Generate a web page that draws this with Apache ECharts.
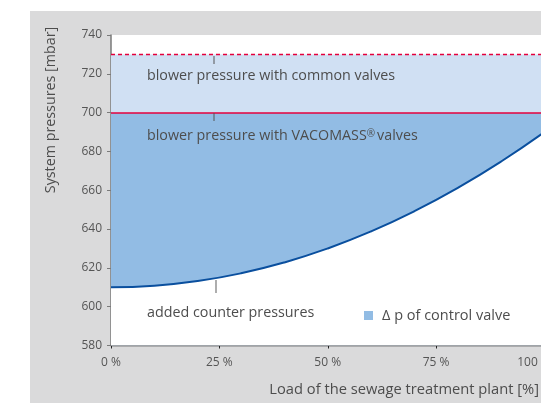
<!DOCTYPE html>
<html><head><meta charset="utf-8">
<script src="https://cdn.jsdelivr.net/npm/echarts@6/dist/echarts.min.js"></script>
<style>html,body{margin:0;padding:0;background:#fff}#c{width:541px;height:403px}</style>
</head><body><div id="c"></div>
<script>
const loadPct = [0, 10, 20, 30, 40, 50, 60, 70, 80, 90, 100];
const counterPressure = [610, 610.8, 613.2, 617.2, 622.8, 630, 638.8, 649.2, 661.2, 674.8, 690];
const vacomassPressure = 700;
const commonPressure = 730;
const xTicks = [0, 25, 50, 75, 100];
const yMin = 580, yMax = 740, yStep = 20;

const FONT = 'Open Sans';
const TXT = '#4d4d4d';
const F = '14.3px "Open Sans"';
const curve = loadPct.map((x, i) => [x, counterPressure[i]]);
const flat = loadPct.map(x => [x, vacomassPressure]);

const chart = echarts.init(document.getElementById('c'));
chart.setOption({
  animation: false,
  textStyle: { fontFamily: FONT },
  graphic: [
    { type: 'rect', z: -10, silent: true, shape: { x: 30, y: 11, width: 511, height: 392 }, style: { fill: '#dadadb' } },
    { type: 'text', z: 100, x: 147, y: 76, style: { text: 'blower pressure with common valves', fill: TXT, font: F, verticalAlign: 'middle' } },
    { type: 'text', z: 100, x: 147, y: 136, style: {
        text: 'blower pressure with VACOMASS{r|\u00AE}valves', fill: TXT, font: F, verticalAlign: 'middle',
        rich: { r: { fontSize: 10, fontFamily: FONT, fill: TXT, verticalAlign: 'top', padding: [0, 2, 0, 0] } } } },
    { type: 'text', z: 100, x: 147, y: 313, style: { text: 'added counter pressures', fill: TXT, font: F, verticalAlign: 'middle' } },
    { type: 'text', z: 100, x: 51, y: 110, rotation: Math.PI / 2, style: { text: 'System pressures [mbar]', fill: TXT, font: F, align: 'center', verticalAlign: 'middle' } },
    { type: 'text', z: 100, x: 539, y: 390, style: { text: 'Load of the sewage treatment plant [%]', fill: TXT, font: '14.7px "Open Sans"', align: 'right', verticalAlign: 'middle' } },
    { type: 'line', z: 100, shape: { x1: 214, y1: 56, x2: 214, y2: 64 }, style: { stroke: '#555', lineWidth: 1 } },
    { type: 'line', z: 100, shape: { x1: 214, y1: 113, x2: 214, y2: 121 }, style: { stroke: '#555', lineWidth: 1 } },
    { type: 'line', z: 100, shape: { x1: 216, y1: 280, x2: 216, y2: 293 }, style: { stroke: '#777', lineWidth: 1.2 } }
  ],
  legend: {
    left: 359, top: 303,
    itemWidth: 9, itemHeight: 9, itemGap: 10,
    icon: 'rect',
    data: [{ name: '\u0394 p of control valve' }],
    textStyle: { color: TXT, fontSize: 14.5, fontFamily: FONT, padding: [0, 0, 0, 4] }
  },
  grid: { left: 111, top: 35, right: -3.5, bottom: 57.5, show: true, backgroundColor: '#fff', borderWidth: 0, outerBoundsMode: 'none', containLabel: false },
  xAxis: {
    type: 'value', min: 0, max: 100, interval: 25,
    axisLine: { show: true, lineStyle: { color: '#222', width: 1.3 } },
    axisTick: { show: true, length: 3, lineStyle: { color: '#222' } },
    splitLine: { show: false },
    axisLabel: {
      formatter: v => v === 100 ? '{m|' + v + ' %}' : v + ' %',
      color: '#555', fontSize: 12, margin: 11, fontFamily: FONT,
      rich: { m: { color: '#555', fontSize: 12, fontFamily: FONT, padding: [0, 21, 0, 0] } }
    }
  },
  yAxis: {
    type: 'value', min: yMin, max: yMax, interval: yStep,
    axisLine: { show: true, lineStyle: { color: '#7a7a7a', width: 1.5 } },
    axisTick: { show: true, length: 4, lineStyle: { color: '#7a7a7a' } },
    splitLine: { show: false },
    axisLabel: { color: '#555', fontSize: 12, margin: 9, fontFamily: FONT }
  },
  series: [
    {
      name: '\u0394 p of control valve', type: 'line', data: flat, symbol: 'none',
      itemStyle: { color: '#92bce4' },
      lineStyle: { width: 0 },
      areaStyle: { color: '#92bce4', opacity: 1, origin: 'start' },
      markArea: {
        silent: true,
        itemStyle: { color: '#d0e0f3' },
        data: [[{ yAxis: vacomassPressure }, { yAxis: commonPressure }]]
      },
      z: 2
    },
    {
      name: 'counter', type: 'line', data: curve, symbol: 'none', smooth: true,
      lineStyle: { color: '#0a4f9e', width: 2 },
      areaStyle: { color: '#ffffff', opacity: 1, origin: 'start' },
      z: 3
    },
    {
      name: 'lines', type: 'line', data: [], symbol: 'none',
      markLine: {
        silent: true, symbol: 'none',
        label: { show: false },
        data: [
          { yAxis: vacomassPressure, lineStyle: { color: '#e4003c', width: 1.5, type: 'solid' } },
          { yAxis: commonPressure, lineStyle: { color: '#e4003c', width: 1.3, type: [4, 3] } }
        ]
      },
      z: 4
    }
  ]
});
</script></body></html>
